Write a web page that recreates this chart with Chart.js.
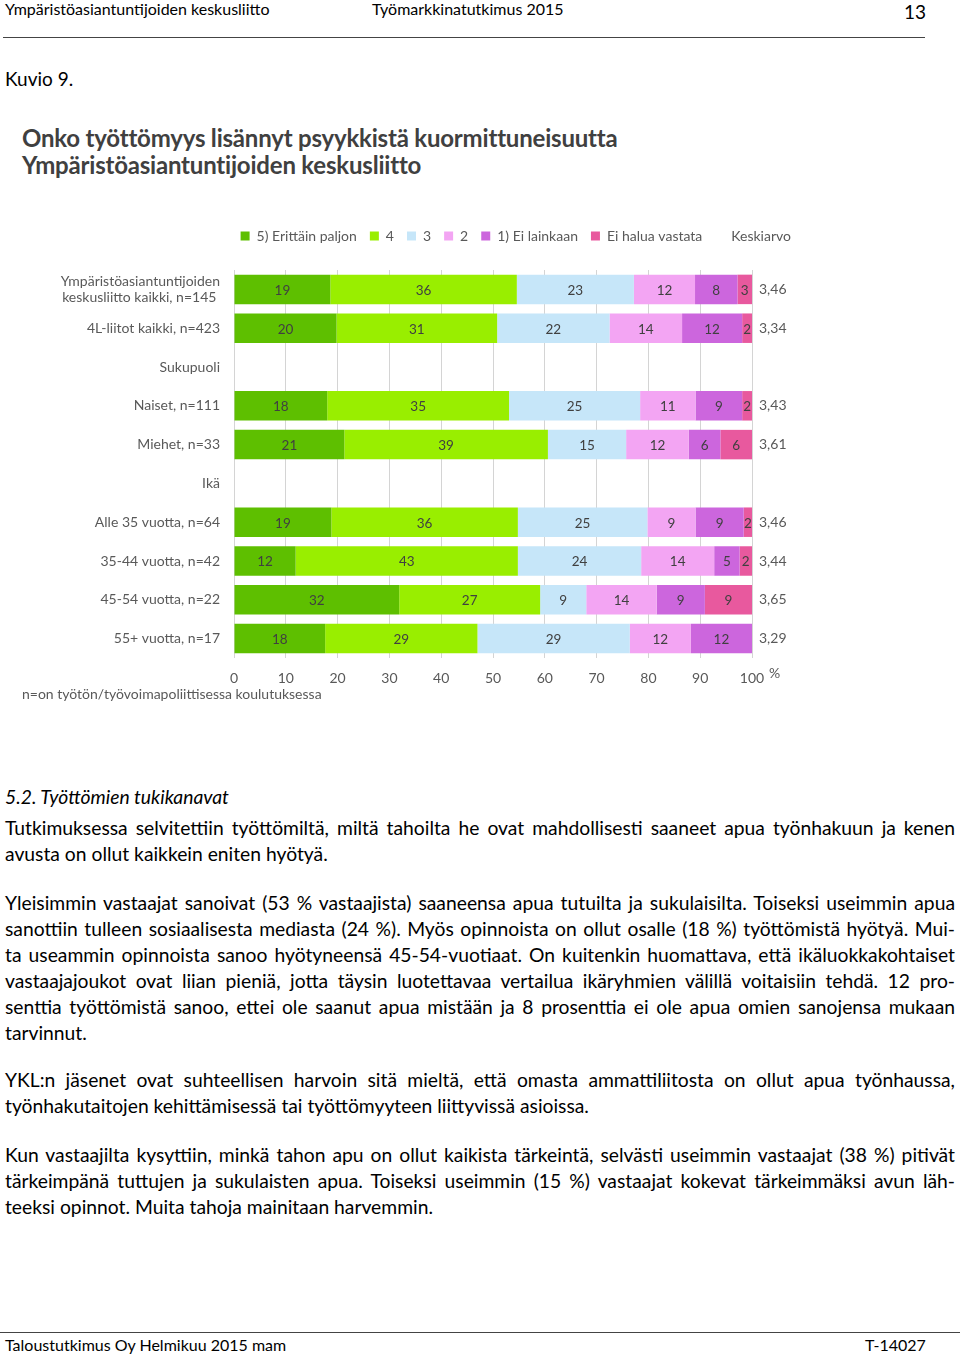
<!DOCTYPE html>
<html>
<head>
<meta charset="utf-8">
<script src="https://cdn.jsdelivr.net/npm/chart.js@4"></script>
<style>
  html, body { margin: 0; padding: 0; background: #fff; }
  body { width: 960px; height: 1357px; position: relative; overflow: hidden; font-family: Lato, "Open Sans", sans-serif; color: #000; }
  .abs { position: absolute; white-space: nowrap; }
  .hdr { font-size: 16px; top: 0; line-height: 18px; }
  .rule { position: absolute; height: 1px; background: #444; }
  .title { left: 22px; font-size: 24px; font-weight: bold; color: #404040; line-height: 27px; letter-spacing: -0.2px; }
  .doc { position: absolute; left: 5px; width: 950px; font-size: 19.3px; line-height: 26px; }
  .doc div { white-space: nowrap; }
  .doc .j { text-align: justify; text-align-last: justify; white-space: normal; }
  #wrap { position: absolute; left: 20px; top: 212px; width: 784px; height: 480px; }
  .note { left: 22px; top: 685px; font-size: 14px; color: #595959; }
</style>
</head>
<body>
<div class="abs hdr" style="left:5px;">Ympäristöasiantuntijoiden keskusliitto</div>
<div class="abs hdr" style="left:372px;">Työmarkkinatutkimus 2015</div>
<div class="abs" style="left:904px; top:1px; font-size:19px; line-height:22px;">13</div>
<div class="rule" style="left:3px; top:37px; width:922px;"></div>
<div class="abs" style="left:5px; top:68px; font-size:19px; line-height:22px;">Kuvio 9.</div>

<div class="abs title" style="top:124px;">Onko työttömyys lisännyt psyykkistä kuormittuneisuutta</div>
<div class="abs title" style="top:151px;">Ympäristöasiantuntijoiden keskusliitto</div>

<div id="wrap"><canvas id="c"></canvas></div>
<div class="abs note">n=on työtön/työvoimapoliittisessa koulutuksessa</div>

<div class="doc" style="top:784px;"><div style="font-style:italic;">5.2. Työttömien tukikanavat</div></div>
<div class="doc" style="top:815px;">
  <div class="j">Tutkimuksessa selvitettiin työttömiltä, miltä tahoilta he ovat mahdollisesti saaneet apua työnhakuun ja kenen</div>
  <div>avusta on ollut kaikkein eniten hyötyä.</div>
</div>
<div class="doc" style="top:890px;">
  <div class="j">Yleisimmin vastaajat sanoivat (53 % vastaajista) saaneensa apua tutuilta ja sukulaisilta. Toiseksi useimmin apua</div>
  <div class="j">sanottiin tulleen sosiaalisesta mediasta (24 %). Myös opinnoista on ollut osalle (18 %) työttömistä hyötyä. Mui-</div>
  <div class="j">ta useammin opinnoista sanoo hyötyneensä 45-54-vuotiaat. On kuitenkin huomattava, että ikäluokkakohtaiset</div>
  <div class="j">vastaajajoukot ovat liian pieniä, jotta täysin luotettavaa vertailua ikäryhmien välillä voitaisiin tehdä. 12 pro-</div>
  <div class="j">senttia työttömistä sanoo, ettei ole saanut apua mistään ja 8 prosenttia ei ole apua omien sanojensa mukaan</div>
  <div>tarvinnut.</div>
</div>
<div class="doc" style="top:1067px;">
  <div class="j">YKL:n jäsenet ovat suhteellisen harvoin sitä mieltä, että omasta ammattiliitosta on ollut apua työnhaussa,</div>
  <div>työnhakutaitojen kehittämisessä tai työttömyyteen liittyvissä asioissa.</div>
</div>
<div class="doc" style="top:1142px;">
  <div class="j">Kun vastaajilta kysyttiin, minkä tahon apu on ollut kaikista tärkeintä, selvästi useimmin vastaajat (38 %) pitivät</div>
  <div class="j">tärkeimpänä tuttujen ja sukulaisten apua. Toiseksi useimmin (15 %) vastaajat kokevat tärkeimmäksi avun läh-</div>
  <div>teeksi opinnot. Muita tahoja mainitaan harvemmin.</div>
</div>

<div class="rule" style="left:0; top:1332px; width:960px;"></div>
<div class="abs" style="left:5px; top:1336px; font-size:16px; line-height:18px;">Taloustutkimus Oy Helmikuu 2015 mam</div>
<div class="abs" style="left:865px; top:1336px; font-size:16px; line-height:18px;">T-14027</div>

<script>
// ---- Data ----
const categories = [
  ['Ympäristöasiantuntijoiden', 'keskusliitto kaikki, n=145 '],
  '4L-liitot kaikki, n=423',
  'Sukupuoli',
  'Naiset, n=111',
  'Miehet, n=33',
  'Ikä',
  'Alle 35 vuotta, n=64',
  '35-44 vuotta, n=42',
  '45-54 vuotta, n=22',
  '55+ vuotta, n=17'
];
const seriesNames = ['5) Erittäin paljon', '4', '3', '2', '1) Ei lainkaan', 'Ei halua vastata'];
const s5 = [18.6, 19.8, null, 18.0, 21.3, null, 18.8, 11.9, 31.9, 17.6];
const s4 = [36.0, 31.0, null, 35.1, 39.3, null, 36.0, 42.9, 27.2, 29.4];
const s3 = [22.6, 21.7, null, 25.3, 15.1, null, 25.0, 23.8, 8.9, 29.4];
const s2 = [11.8, 14.0, null, 10.7, 12.1, null, 9.3, 14.1, 13.6, 11.8];
const s1 = [8.2, 11.6, null, 9.0, 6.1, null, 9.3, 4.9, 9.3, 11.8];
const sEi = [2.8, 1.9, null, 1.9, 6.1, null, 1.6, 2.4, 9.1, 0];
const means = [3.46, 3.34, null, 3.43, 3.61, null, 3.46, 3.44, 3.65, 3.29];
const meanLabel = 'Keskiarvo';
const xTicks = [0, 10, 20, 30, 40, 50, 60, 70, 80, 90, 100];

const colors = ['#5EBF00', '#99EE00', '#C6E6F9', '#F3A5F3', '#CC66DD', '#E8599E'];
const seriesData = [s5, s4, s3, s2, s1, sEi];
const FONT = 'Lato, "Open Sans", sans-serif';

const datasets = seriesData.map((d, i) => ({
  label: seriesNames[i], data: d, backgroundColor: colors[i], borderWidth: 0,
  barPercentage: 0.76, categoryPercentage: 1.0, xAxisID: 'x', yAxisID: 'y'
}));
datasets.push({ label: meanLabel, data: [], backgroundColor: 'rgba(0,0,0,0)', borderWidth: 0, xAxisID: 'x', yAxisID: 'y' });

const legendGap = {
  id: 'legendGap',
  beforeInit(chart) {
    const lg = chart.legend;
    const fit = lg.fit;
    lg.fit = function () { fit.call(this); this.height += 17; };
  }
};

const labelPlugin = {
  id: 'barLabels',
  afterDatasetsDraw(chart) {
    const ctx = chart.ctx;
    ctx.save();
    ctx.font = '13.5px ' + FONT;
    ctx.fillStyle = '#404040';
    ctx.textAlign = 'center';
    ctx.textBaseline = 'middle';
    for (let i = 0; i < seriesData.length; i++) {
      const meta = chart.getDatasetMeta(i);
      meta.data.forEach((el, j) => {
        const v = seriesData[i][j];
        if (v == null || v <= 0) return;
        const p = el.getCenterPoint();
        ctx.fillText(String(Math.round(v)), p.x, p.y + 1);
      });
    }
    const xs = chart.scales.x;
    ctx.fillStyle = '#595959';
    ctx.font = '14px ' + FONT;
    ctx.textAlign = 'left';
    ctx.fillText('%', xs.getPixelForValue(100) + 17, chart.chartArea.bottom + 15);
    ctx.restore();
  }
};

new Chart(document.getElementById('c'), {
  type: 'bar',
  data: { labels: categories, datasets },
  plugins: [legendGap, labelPlugin],
  options: {
    indexAxis: 'y',
    responsive: true,
    maintainAspectRatio: false,
    animation: false,
    layout: { padding: { top: 4, bottom: 0, left: 0, right: 0 } },
    plugins: {
      legend: {
        position: 'top', align: 'end',
        labels: {
          boxWidth: 9, boxHeight: 9, padding: 13,
          color: '#595959', font: { size: 14, family: FONT }
        }
      },
      tooltip: { enabled: false },
      title: { display: false }
    },
    scales: {
      x: {
        stacked: true, min: 0, max: 100,
        afterBuildTicks(s) { s.ticks = xTicks.map(v => ({ value: v })); },
        ticks: { color: '#595959', font: { size: 14, family: FONT }, padding: 12 },
        grid: { color: '#D4D4D4', drawTicks: false },
        border: { display: false },
        afterFit(s) { s.height = 34; }
      },
      y: {
        stacked: true,
        ticks: { color: '#595959', font: { size: 14, family: FONT }, padding: 14, autoSkip: false },
        grid: { display: false, drawTicks: false },
        border: { display: false },
        afterFit(s) { s.width = 214; }
      },
      y2: {
        type: 'category', position: 'right', offset: true,
        labels: means.map(m => m == null ? '' : m.toFixed(2).replace('.', ',')),
        ticks: { color: '#595959', font: { size: 14, family: FONT }, padding: 7, autoSkip: false },
        grid: { display: false, drawTicks: false },
        border: { display: false },
        afterFit(s) { s.width = 52; }
      }
    }
  }
});
</script>
</body>
</html>
